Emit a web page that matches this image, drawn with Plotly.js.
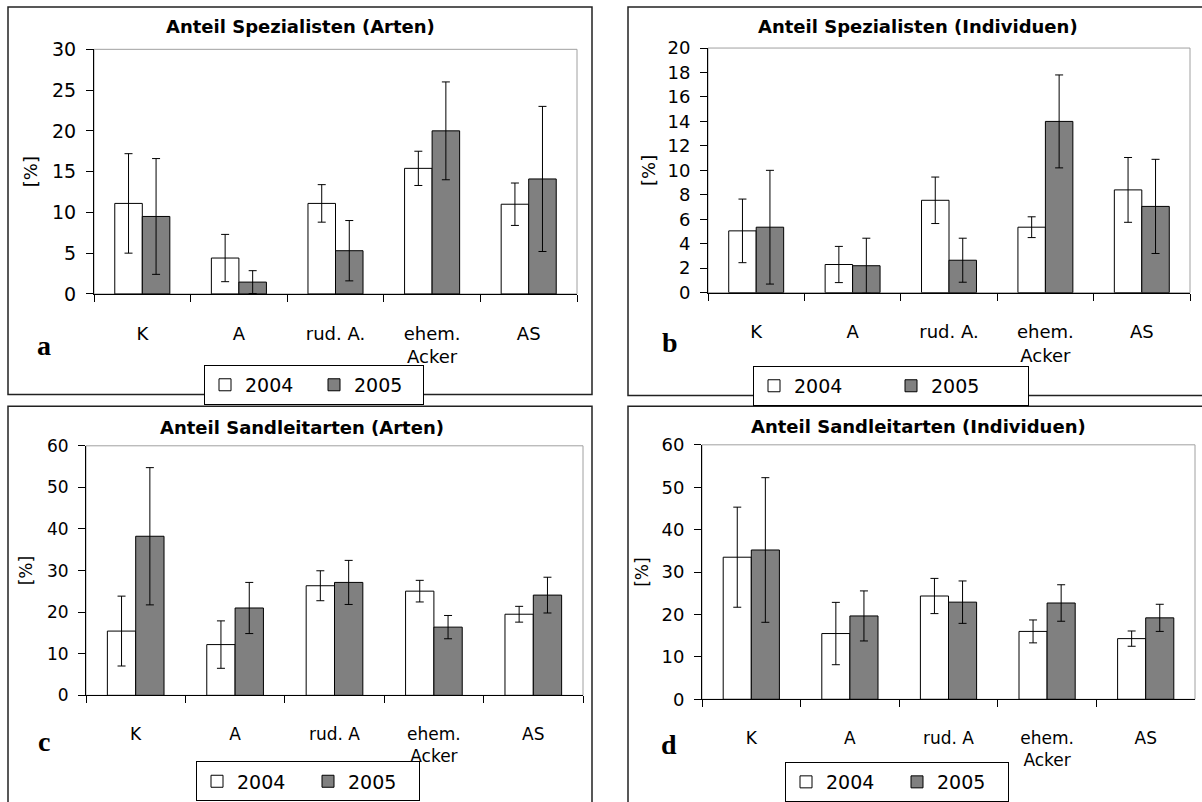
<!DOCTYPE html>
<html><head><meta charset="utf-8">
<script src="https://cdn.plot.ly/plotly-3.0.1.min.js"></script>
<style>html,body{margin:0;padding:0;background:#fff;} #chart{width:1202px;height:802px;}</style>
</head><body><div id="chart"></div>
<script>
// ---------------- data ----------------
const categoriesTop = ['K', 'A', 'rud. A.', 'ehem.<br>Acker', 'AS'];
const categoriesBottom = ['K', 'A', 'rud. A', 'ehem.<br>Acker', 'AS'];
const seriesNames = ['2004', '2005'];
const panelTitles = ['Anteil Spezialisten (Arten)', 'Anteil Spezialisten (Individuen)',
                     'Anteil Sandleitarten (Arten)', 'Anteil Sandleitarten (Individuen)'];
const panelLetters = ['a', 'b', 'c', 'd'];
const yAxisTitle = '[%]';

// a: Anteil Spezialisten (Arten)
const specArten2004 = [11.1, 4.4, 11.1, 15.4, 11.0];
const specArten2004Err = [6.1, 2.9, 2.3, 2.1, 2.6];
const specArten2005 = [9.5, 1.45, 5.3, 20.0, 14.1];
const specArten2005Err = [7.1, 1.4, 3.7, 6.0, 8.9];
// b: Anteil Spezialisten (Individuen)
const specInd2004 = [5.05, 2.3, 7.55, 5.35, 8.4];
const specInd2004Err = [2.6, 1.48, 1.9, 0.85, 2.65];
const specInd2005 = [5.35, 2.2, 2.65, 14.0, 7.05];
const specInd2005Err = [4.65, 2.25, 1.8, 3.8, 3.85];
// c: Anteil Sandleitarten (Arten)
const sandArten2004 = [15.45, 12.2, 26.35, 25.05, 19.5];
const sandArten2004Err = [8.4, 5.7, 3.6, 2.6, 1.9];
const sandArten2005 = [38.25, 21.0, 27.15, 16.4, 24.1];
const sandArten2005Err = [16.5, 6.15, 5.3, 2.8, 4.3];
// d: Anteil Sandleitarten (Individuen)
const sandInd2004 = [33.5, 15.5, 24.35, 16.0, 14.3];
const sandInd2004Err = [11.8, 7.35, 4.15, 2.7, 1.8];
const sandInd2005 = [35.2, 19.65, 22.9, 22.7, 19.2];
const sandInd2005Err = [17.05, 5.9, 5.0, 4.3, 3.2];

const yRanges = [[0, 30], [0, 20], [0, 60], [0, 60]];
const yDticks = [5, 2, 10, 10];

// ---------------- layout helpers ----------------
const W = 1202, H = 802;
const fx = p => p / W;
const fy = p => 1 - p / H;
const FONT = 'DejaVu Sans';

const panels = [
  {cats: categoriesTop, d: [[specArten2004, specArten2004Err], [specArten2005, specArten2005Err]],
   plot: {l: 94, r: 577, t: 50, b: 298}, box: {l: 8, r: 592, t: 7, b: 400},
   title: {x: 300, y: 27}, letter: {x: 44, y: 350}, legend: {x: 314, y: 370, ew: 64},
   tick: 19, ytitle: 18, cat: 18, ystand: 9},
  {cats: categoriesTop, d: [[specInd2004, specInd2004Err], [specInd2005, specInd2005Err]],
   plot: {l: 708, r: 1190, t: 48.7, b: 296.7}, box: {l: 628, r: 1215, t: 7, b: 401},
   title: {x: 918, y: 27}, letter: {x: 670, y: 347}, legend: {x: 891, y: 371, ew: 92},
   tick: 18, ytitle: 18, cat: 18, ystand: 7},
  {cats: categoriesBottom, d: [[sandArten2004, sandArten2004Err], [sandArten2005, sandArten2005Err]],
   plot: {l: 86, r: 583, t: 452, b: 705}, box: {l: 8, r: 592, t: 412, b: 815},
   title: {x: 302, y: 433}, letter: {x: 44, y: 752}, legend: {x: 308, y: 772, ew: 66},
   tick: 17, ytitle: 17, cat: 17, ystand: 10},
  {cats: categoriesBottom, d: [[sandInd2004, sandInd2004Err], [sandInd2005, sandInd2005Err]],
   plot: {l: 702, r: 1195, t: 451, b: 709}, box: {l: 628, r: 1215, t: 412, b: 815},
   title: {x: 918, y: 432}, letter: {x: 669, y: 755}, legend: {x: 897, y: 773, ew: 66},
   tick: 18, ytitle: 17, cat: 17, ystand: 8}
];

const fills = ['#ffffff', '#808080'];
const traces = [];
const layout = {
  width: W, height: H,
  margin: {l: 0, r: 0, t: 0, b: 0},
  paper_bgcolor: '#ffffff', plot_bgcolor: '#ffffff',
  barmode: 'group', bargap: 0.43, bargroupgap: 0,
  font: {family: FONT, color: '#000'},
  shapes: [], annotations: []
};

panels.forEach((p, i) => {
  const s = i === 0 ? '' : String(i + 1);
  const legName = i === 0 ? 'legend' : 'legend' + (i + 1);
  p.d.forEach((ser, k) => {
    traces.push({
      type: 'bar', x: p.cats, y: ser[0], name: seriesNames[k],
      xaxis: 'x' + s, yaxis: 'y' + s, legend: legName,
      marker: {color: fills[k], line: {color: '#000', width: 1}},
      error_y: {type: 'data', array: ser[1], visible: true, color: '#000', thickness: 1, width: 4},
      hoverinfo: 'skip'
    });
  });
  layout['xaxis' + s] = {
    domain: [fx(p.plot.l), fx(p.plot.r)], anchor: 'y' + s,
    type: 'category', range: [-0.5, 4.5], tickson: 'boundaries',
    ticks: 'outside', ticklen: 7, tickcolor: '#000', tickwidth: 1,
    showline: true, linecolor: '#000', linewidth: 1, showgrid: false, zeroline: false,
    tickfont: {family: FONT, size: p.cat, color: '#000'}, ticklabelstandoff: 23,
    fixedrange: true
  };
  layout['yaxis' + s] = {
    domain: [fy(p.plot.b), fy(p.plot.t)], anchor: 'x' + s,
    range: yRanges[i], dtick: yDticks[i], tick0: 0,
    ticks: 'outside', ticklen: 7, tickcolor: '#000', tickwidth: 1,
    showline: true, linecolor: '#000', linewidth: 1, showgrid: false, zeroline: false,
    tickfont: {family: FONT, size: p.tick, color: '#000'}, ticklabelstandoff: 6,
    title: {text: yAxisTitle, font: {family: FONT, size: p.ytitle, color: '#000'}, standoff: p.ystand},
    fixedrange: true
  };
  // plot area frame (grey)
  layout.shapes.push({type: 'rect', xref: 'x' + s + ' domain', yref: 'y' + s + ' domain',
    x0: 0, x1: 1, y0: 0, y1: 1, line: {color: '#a0a0a0', width: 1}, layer: 'below'});
  // panel border
  layout.shapes.push({type: 'rect', xref: 'paper', yref: 'paper',
    x0: fx(p.box.l), x1: fx(p.box.r), y0: fy(p.box.b), y1: fy(p.box.t),
    line: {color: '#222', width: 1.5}, layer: 'below'});
  layout.annotations.push({xref: 'paper', yref: 'paper', x: fx(p.title.x), y: fy(p.title.y),
    xanchor: 'center', yanchor: 'middle', showarrow: false, text: panelTitles[i],
    font: {family: FONT, size: 18, weight: 'bold', color: '#000'}});
  layout.annotations.push({xref: 'paper', yref: 'paper', x: fx(p.letter.x), y: fy(p.letter.y),
    xanchor: 'center', yanchor: 'middle', showarrow: false, text: panelLetters[i],
    font: {family: 'Liberation Serif', size: 28, weight: 'bold', color: '#000'}});
  layout[legName] = {
    orientation: 'h', x: fx(p.legend.x), y: fy(p.legend.y), xanchor: 'center', yanchor: 'top',
    bordercolor: '#000', borderwidth: 1, bgcolor: '#fff',
    font: {family: FONT, size: 19, color: '#000'},
    itemwidth: 30, traceorder: 'normal', entrywidth: p.legend.ew, entrywidthmode: 'pixels'
  };
});

Plotly.newPlot('chart', traces, layout, {displayModeBar: false, staticPlot: true});
</script>
</body></html>
